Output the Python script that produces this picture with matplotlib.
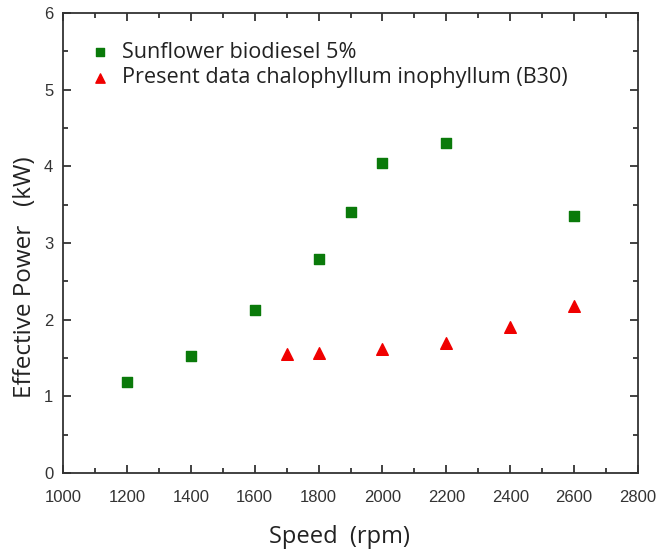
import matplotlib.pyplot as plt
from matplotlib.ticker import MultipleLocator

plt.rcParams['font.family'] = ['Liberation Sans', 'DejaVu Sans']

# Data
sunflower_speed = [1200, 1400, 1600, 1800, 1900, 2000, 2200, 2600]
sunflower_power = [1.19, 1.52, 2.12, 2.79, 3.40, 4.05, 4.31, 3.35]
present_speed = [1700, 1800, 2000, 2200, 2400, 2600]
present_power = [1.55, 1.57, 1.62, 1.70, 1.90, 2.18]

label_sunflower = 'Sunflower biodiesel 5%'
label_present = 'Present data chalophyllum inophyllum (B30)'

fig = plt.figure(figsize=(6.59, 5.54), dpi=100)
ax = fig.add_axes([0.0956, 0.1462, 0.8726, 0.8303])

ax.scatter(sunflower_speed, sunflower_power, marker='s', s=45, color='#0a7a0a',
           label=label_sunflower, zorder=3)
ax.scatter(present_speed, present_power, marker='^', s=70, color='#f00000',
           label=label_present, zorder=3)

ax.set_xlim(1000, 2800)
ax.set_ylim(0, 6)
ax.xaxis.set_major_locator(MultipleLocator(200))
ax.xaxis.set_minor_locator(MultipleLocator(100))
ax.yaxis.set_major_locator(MultipleLocator(1))
ax.yaxis.set_minor_locator(MultipleLocator(0.5))
ax.tick_params(which='both', direction='in', top=True, right=True, width=1.3,
               colors='#333333')
ax.tick_params(which='major', length=6, labelsize=12)
ax.tick_params(axis='x', which='major', pad=12)
ax.tick_params(axis='y', which='major', pad=7)
ax.tick_params(which='minor', length=3.5)
for sp in ax.spines.values():
    sp.set_linewidth(1.3)
    sp.set_color('#333333')

ax.set_xlabel('Speed  (rpm)', fontfamily='Open Sans', fontsize=17, color='#222222')
ax.set_ylabel("Effective Power   (kW)", fontfamily='Open Sans', fontsize=17.5, color='#222222')
ax.xaxis.set_label_coords(0.48, -0.113)
ax.yaxis.set_label_coords(-0.046, 0.426)

ax.legend(loc='upper left', frameon=False, prop={'family': 'Open Sans', 'size': 15.6},
          handletextpad=0.42, borderaxespad=0.0, labelspacing=0.2, labelcolor='#222222',
          scatterpoints=1, markerscale=0.8, handlelength=1.2,
          bbox_to_anchor=(0.027, 0.956))

fig.savefig('out.png', dpi=100)
